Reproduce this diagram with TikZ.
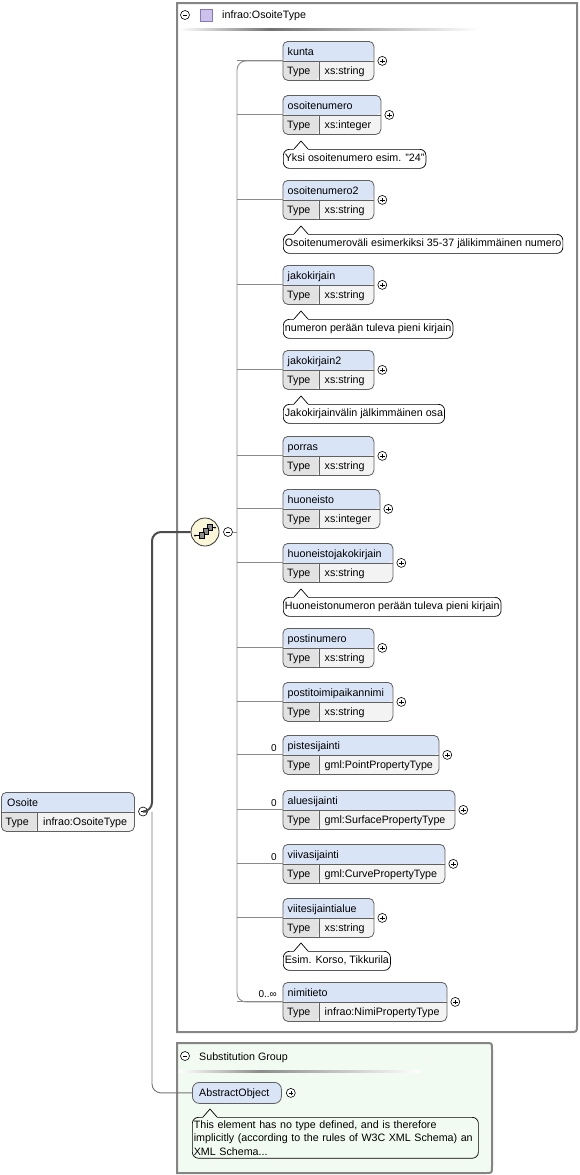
\documentclass[tikz,border=0pt]{standalone}
\usepackage{fontspec}
\setmainfont{Liberation Sans}
\definecolor{headfill}{HTML}{D9E4F7}
\definecolor{typefill}{HTML}{E2E2E2}
\definecolor{valfill}{HTML}{F3F3F3}
\definecolor{nodeborder}{HTML}{606060}
\definecolor{framecol}{HTML}{858585}
\definecolor{treecol}{HTML}{8A8A8A}
\definecolor{subfill}{HTML}{F2FBF2}
\definecolor{seqfill}{HTML}{FBF6D8}
\definecolor{sqfill}{HTML}{CBC1EA}
\definecolor{sqborder}{HTML}{8677B8}
\tikzset{
  lbl/.style={font=\fontsize{10.7}{12.5}\selectfont, inner sep=0pt},
  elem/.style={draw=nodeborder, line width=0.8pt, rounded corners=5pt, minimum height=39pt, inner sep=0pt, fill=valfill,
    path picture={
      \fill[headfill] (path picture bounding box.north west) rectangle ([yshift=-19.5pt]path picture bounding box.north east);
      \fill[typefill] ([yshift=-19.5pt]path picture bounding box.north west) rectangle ([xshift=36pt]path picture bounding box.south west);
      \draw[nodeborder, line width=0.8pt] ([yshift=-19.5pt]path picture bounding box.north west) -- ([yshift=-19.5pt]path picture bounding box.north east);
      \draw[nodeborder, line width=0.8pt] ([yshift=-19.5pt,xshift=36pt]path picture bounding box.north west) -- ([xshift=36pt]path picture bounding box.south west);
    }},
  pm/.style={draw=black, circle, line width=0.6pt, minimum size=9pt, inner sep=0pt, fill=white},
  tree/.style={draw=treecol, line width=0.9pt},
  thickline/.style={draw=black!70, line width=2pt},
  annot/.style={draw=black, line width=0.7pt, rounded corners=6pt, fill=white, inner xsep=1.5pt, inner ysep=0pt, minimum height=19pt, anchor=north west, font=\fontsize{10.7}{12.5}\selectfont},
  mult/.style={font=\fontsize{10}{12}\selectfont, inner sep=0pt, anchor=base east},
}
\newcommand\plusnode[2]{\node[pm] (#1) at #2 {};
  \draw[line width=0.6pt] ([xshift=-2.3pt]#1.center) -- ([xshift=2.3pt]#1.center) ([yshift=-2.3pt]#1.center) -- ([yshift=2.3pt]#1.center);}
\newcommand\minusnode[2]{\node[pm] (#1) at #2 {};
  \draw[line width=0.6pt] ([xshift=-2.3pt]#1.center) -- ([xshift=2.3pt]#1.center);}
% id, top, width, label, type
\newcommand\elem[5]{%
  \node[elem, minimum width=#3pt, anchor=north west] (#1) at (282.5,#2) {};
  \node[lbl, anchor=base west] (#1h) at ([xshift=5pt,yshift=-14pt]#1.north west) {#4};
  \node[lbl, anchor=base west] (#1t) at ([xshift=4.5pt,yshift=-33.5pt]#1.north west) {Type};
  \node[lbl, anchor=base west] (#1v) at ([xshift=42pt,yshift=-33.5pt]#1.north west) {#5};
  \plusnode{#1p}{([xshift=8pt]#1.east)}
  \draw[tree] (#1.west -| trunk) -- (#1.west);}
% id, top, text
\newcommand\ann[3]{%
  \node[annot] (#1) at (283,#2) {\rule[-4.5pt]{0pt}{14pt}#3};
  \fill[white] ([xshift=11pt,yshift=-0.8pt]#1.north west) -- ([xshift=18pt,yshift=8pt]#1.north west) -- ([xshift=25pt,yshift=-0.8pt]#1.north west) -- cycle;
  \draw[line width=0.7pt] ([xshift=11pt]#1.north west) -- ([xshift=18pt,yshift=8pt]#1.north west) -- ([xshift=25pt]#1.north west);}
\begin{document}
\begin{tikzpicture}[x=1pt,y=-1pt]
\useasboundingbox (0,0) rectangle (579,1175);
% main type frame
\draw[framecol, line width=2pt, fill=white] (177,3) -- (577,3) -- (577,1025) .. controls (577,1032) .. (570,1032) -- (177,1032) -- cycle;
\minusnode{tm}{(185,15)}
\node[draw=sqborder, fill=sqfill, line width=0.7pt, minimum size=12pt, inner sep=0pt] (tsq) at (206,15) {};
\node[lbl, anchor=base west] (ttitle) at (222,19) {infrao:OsoiteType};
\shade[left color=white, right color=black!55] (179,28) rectangle (270,30);
\shade[left color=black!55, right color=white] (270,28) rectangle (480,30);
\coordinate (trunk) at (237,0);
% elements
\elem{kunta}{41}{91}{kunta}{xs:string}
\elem{osoitenumero}{95}{98}{osoitenumero}{xs:integer}
\ann{a1}{149}{Yksi osoitenumero esim. "24"}
\elem{osoitenumeroB}{180}{91}{osoitenumero2}{xs:string}
\ann{a2}{234}{Osoitenumeroväli esimerkiksi 35-37 jälikimmäinen numero}
\elem{jakokirjain}{265}{91}{jakokirjain}{xs:string}
\ann{a3}{319}{numeron perään tuleva pieni kirjain}
\elem{jakokirjainB}{350}{91}{jakokirjain2}{xs:string}
\ann{a4}{404}{Jakokirjainvälin jälkimmäinen osa}
\elem{porras}{436}{91}{porras}{xs:string}
\elem{huoneisto}{489}{97}{huoneisto}{xs:integer}
\elem{huoneistojakokirjain}{543}{110}{huoneistojakokirjain}{xs:string}
\ann{a5}{597}{Huoneistonumeron perään tuleva pieni kirjain}
\elem{postinumero}{628}{91}{postinumero}{xs:string}
\elem{postitoimipaikannimi}{682}{110}{postitoimipaikannimi}{xs:string}
\elem{pistesijainti}{735}{156}{pistesijainti}{gml:PointPropertyType}
\elem{aluesijainti}{790}{172}{aluesijainti}{gml:SurfacePropertyType}
\elem{viivasijainti}{844}{162}{viivasijainti}{gml:CurvePropertyType}
\elem{viitesijaintialue}{898}{91}{viitesijaintialue}{xs:string}
\ann{a6}{951}{Esim. Korso, Tikkurila}
\elem{nimitieto}{982}{164}{nimitieto}{infrao:NimiPropertyType}
% multiplicities
\node[mult] (m1) at (277,751) {0};
\node[mult] (m2) at (277,806) {0};
\node[mult] (m3) at (277,860) {0};
\node[mult] (m4) at (277,997) {0..∞};
% trunk
\draw[tree, rounded corners=9pt] (kunta.west) -| (trunk |- nimitieto.west) -- (nimitieto.west);
% sequence compositor
\node[circle, draw=black!80, line width=0.8pt, fill=seqfill, minimum size=28pt, inner sep=0pt] (seq) at (205,532) {};
\draw[line width=0.7pt] (195,535.5) -- (199,535.5) (211,527.5) -- (215,527.5);
\fill (195,535.5) circle (1pt) (215,527.5) circle (1pt);
\draw[fill=black!45, line width=0.5pt] (207,524) rectangle (212,530);
\draw[fill=black!45, line width=0.5pt] (203,528) rectangle (208,534);
\draw[fill=black!45, line width=0.5pt] (199,532) rectangle (204,538);
\minusnode{seqm}{(228,532)}
\draw[tree] (seqm.east) -- (seqm.east -| trunk);
% Osoite element
\node[elem, minimum width=133pt, anchor=north west] (osoite) at (1,792) {};
\node[lbl, anchor=base west] (osoiteh) at ([xshift=6pt,yshift=-14pt]osoite.north west) {Osoite};
\node[lbl, anchor=base west] (osoitet) at ([xshift=4.5pt,yshift=-33.5pt]osoite.north west) {Type};
\node[lbl, anchor=base west] (osoitev) at ([xshift=42pt,yshift=-33.5pt]osoite.north west) {infrao:OsoiteType};
\minusnode{osm}{(143,811.5)}
\coordinate (junc) at (152,811.5);
% substitution group
\draw[framecol, line width=2pt, fill=subfill] (177,1043) -- (486,1043) .. controls (492,1043) .. (492,1049) -- (492,1167) .. controls (492,1173) .. (486,1173) -- (177,1173) -- cycle;
\minusnode{sm}{(185,1056)}
\node[lbl, anchor=base west] (stitle) at (199,1060) {Substitution Group};
\shade[left color=white, right color=black!45] (179,1070) rectangle (260,1072);
\shade[left color=black!45, right color=white] (260,1070) rectangle (420,1072);
\node[draw=nodeborder, line width=0.8pt, fill=headfill, rounded corners=7pt, minimum width=89pt, minimum height=21pt, inner sep=0pt, anchor=north west] (abs) at (192,1082) {};
\node[lbl, anchor=base west] (absh) at ([xshift=7pt,yshift=-14.5pt]abs.north west) {AbstractObject};
\plusnode{absp}{([xshift=9pt]abs.east)}
\draw[tree, draw=black!55, rounded corners=9pt] (junc) |- (abs.west);
\draw[thickline, rounded corners=9pt] (osm.east) -- (junc) |- (seq.west);
\node[annot, fill=subfill, text width=283pt, align=left, inner ysep=3pt, font=\fontsize{10.7}{13.5}\selectfont] (a7) at (192,1117) {This element has no type defined, and is therefore\\implicitly (according to the rules of W3C XML Schema) an\\XML Schema...};
\fill[subfill] ([xshift=11pt,yshift=-0.8pt]a7.north west) -- ([xshift=18pt,yshift=8pt]a7.north west) -- ([xshift=25pt,yshift=-0.8pt]a7.north west) -- cycle;
\draw[line width=0.7pt] ([xshift=11pt]a7.north west) -- ([xshift=18pt,yshift=8pt]a7.north west) -- ([xshift=25pt]a7.north west);
\end{tikzpicture}
\end{document}
